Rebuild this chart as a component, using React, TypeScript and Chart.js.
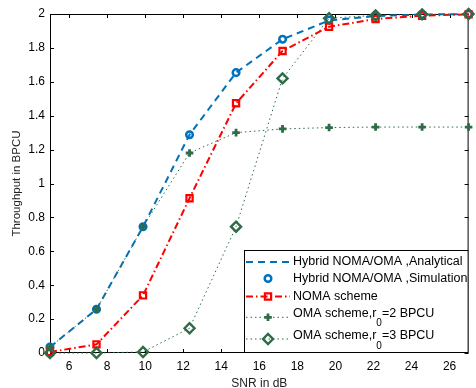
import React, { useEffect, useRef } from 'react';
import { Chart, registerables } from 'chart.js';

Chart.register(...registerables);

// ---- data ----
const snrDb = [5, 7.444, 9.889, 12.333, 14.778, 17.222, 19.667, 22.111, 24.556, 27];
const hybridAnalytical = [0.035, 0.258, 0.745, 1.288, 1.654, 1.851, 1.962, 1.988, 1.997, 2.0];
const hybridSimulation = [0.035, 0.258, 0.745, 1.288, 1.654, 1.851, 1.965, 1.988, 1.997, 2.0];
const nomaScheme = [0.006, 0.051, 0.34, 0.913, 1.473, 1.782, 1.925, 1.97, 1.99, 1.998];
const omaR2 = [0.035, 0.258, 0.745, 1.18, 1.3, 1.322, 1.33, 1.333, 1.333, 1.333];
const omaR3 = [0.0, 0.0, 0.006, 0.146, 0.745, 1.62, 1.975, 1.992, 1.998, 2.0];

const xTicks = [6, 8, 10, 12, 14, 16, 18, 20, 22, 24, 26];
const xTickLabels = ['6', '8', '10', '12', '14', '16', '18', '20', '22', '24', '26'];
const yTicks = [0, 0.2, 0.4, 0.6, 0.8, 1, 1.2, 1.4, 1.6, 1.8, 2];
const yTickLabels = ['0', '0.2', '0.4', '0.6', '0.8', '1', '1.2', '1.4', '1.6', '1.8', '2'];

const seriesLabels = [
  'Hybrid NOMA/OMA ,Analytical',
  'Hybrid NOMA/OMA ,Simulation',
  'NOMA scheme',
  'OMA scheme,r_0=2 BPCU',
  'OMA scheme,r_0=3 BPCU',
];
const xTitle = 'SNR in dB';
const yTitle = 'Throughput in BPCU';

const BLUE = '#0072BD';
const RED = '#FF0000';
const GREEN = '#2E6B46';
const FONT = '"Liberation Sans", Arial, Helvetica, sans-serif';

type Sample = {
  line: boolean;
  color: string;
  width: number;
  dash: number[];
  marker: string | null;
  r: number;
  mw: number;
};

const legendSamples: Sample[] = [
  { line: true, color: BLUE, width: 2, dash: [7, 5], marker: null, r: 0, mw: 0 },
  { line: false, color: BLUE, width: 2, dash: [], marker: 'circle', r: 3.3, mw: 2.5 },
  { line: true, color: RED, width: 2, dash: [7, 3, 1.5, 3], marker: 'rect', r: 4.4, mw: 2.2 },
  { line: true, color: GREEN, width: 1, dash: [1.5, 3], marker: 'cross', r: 3.8, mw: 2.8 },
  { line: true, color: GREEN, width: 1, dash: [1.5, 3], marker: 'rectRot', r: 5, mw: 2.4 },
];

function drawMarker(ctx: CanvasRenderingContext2D, s: Sample, x: number, y: number) {
  if (!s.marker) return;
  ctx.save();
  ctx.setLineDash([]);
  ctx.strokeStyle = s.color;
  ctx.lineWidth = s.mw;
  ctx.beginPath();
  if (s.marker === 'circle') {
    ctx.arc(x, y, s.r, 0, Math.PI * 2);
  } else if (s.marker === 'rect') {
    const h = Math.SQRT1_2 * s.r;
    ctx.rect(x - h, y - h, 2 * h, 2 * h);
  } else if (s.marker === 'cross') {
    ctx.moveTo(x - s.r, y);
    ctx.lineTo(x + s.r, y);
    ctx.moveTo(x, y - s.r);
    ctx.lineTo(x, y + s.r);
  } else if (s.marker === 'rectRot') {
    ctx.moveTo(x - s.r, y);
    ctx.lineTo(x, y - s.r);
    ctx.lineTo(x + s.r, y);
    ctx.lineTo(x, y + s.r);
    ctx.closePath();
  }
  ctx.stroke();
  ctx.restore();
}

const matlabPlugin = {
  id: 'matlabAxes',
  beforeDatasetsDraw(chart: any) {
    const { ctx, chartArea: a, scales } = chart;
    ctx.save();
    ctx.strokeStyle = '#000';
    ctx.lineWidth = 1;
    ctx.strokeRect(a.left + 0.5, a.top + 0.5, a.right - a.left - 1, a.bottom - a.top - 1);
    ctx.beginPath();
    const tl = 4;
    xTicks.forEach((v) => {
      const px = Math.round(scales.x.getPixelForValue(v)) + 0.5;
      ctx.moveTo(px, a.bottom);
      ctx.lineTo(px, a.bottom - tl);
      ctx.moveTo(px, a.top);
      ctx.lineTo(px, a.top + tl);
    });
    yTicks.forEach((v) => {
      const py = Math.round(scales.y.getPixelForValue(v)) + 0.5;
      ctx.moveTo(a.left, py);
      ctx.lineTo(a.left + tl, py);
      ctx.moveTo(a.right, py);
      ctx.lineTo(a.right - tl, py);
    });
    ctx.stroke();
    ctx.restore();
  },
  afterDatasetsDraw(chart: any) {
    const { ctx, chartArea: a } = chart;
    const left = 244;
    const top = 250;
    const right = a.right;
    const bottom = a.bottom;
    ctx.save();
    ctx.fillStyle = '#fff';
    ctx.fillRect(left, top, right - left, bottom - top);
    ctx.strokeStyle = '#000';
    ctx.lineWidth = 1;
    ctx.strokeRect(left + 0.5, top + 0.5, right - left - 1, bottom - top - 1);

    const textY = [262, 278.5, 296.5, 313.5, 336];
    const markY = [262, 278.5, 296.5, 317.3, 339];
    const x0 = 246;
    const x1 = 290;
    const xm = 268;
    const tx = 293;
    seriesLabels.forEach((label, i) => {
      const s = legendSamples[i];
      if (s.line) {
        ctx.save();
        ctx.strokeStyle = s.color;
        ctx.lineWidth = s.width;
        ctx.setLineDash(s.dash);
        ctx.beginPath();
        ctx.moveTo(x0, markY[i]);
        ctx.lineTo(x1, markY[i]);
        ctx.stroke();
        ctx.restore();
      }
      drawMarker(ctx, s, xm, markY[i]);
      ctx.fillStyle = '#000';
      ctx.textBaseline = 'middle';
      ctx.textAlign = 'left';
      const parts = label.split(/_(.)/);
      let x = tx;
      parts.forEach((p, k) => {
        const sub = k % 2 === 1;
        ctx.font = (sub ? '10px ' : '12.5px ') + FONT;
        ctx.fillText(p, x, textY[i] + (sub ? 10 : 0));
        x += ctx.measureText(p).width;
      });
    });
    ctx.restore();
  },
};

export default function App() {
  const ref = useRef<HTMLCanvasElement | null>(null);

  useEffect(() => {
    if (!ref.current) return;
    const mk = (data: number[]) => data.map((y, i) => ({ x: snrDb[i], y }));
    const s = legendSamples;
    const chart = new Chart(ref.current, {
      type: 'line',
      data: {
        datasets: [
          {
            label: seriesLabels[0],
            data: mk(hybridAnalytical),
            borderColor: BLUE,
            borderWidth: 2,
            borderDash: s[0].dash,
            pointRadius: 0,
            fill: false,
            tension: 0,
            clip: false as any,
            order: 5,
          },
          {
            label: seriesLabels[1],
            data: mk(hybridSimulation),
            showLine: false,
            borderColor: BLUE,
            backgroundColor: 'transparent',
            pointStyle: 'circle',
            pointRadius: s[1].r,
            pointBorderWidth: s[1].mw,
            pointBorderColor: BLUE,
            pointBackgroundColor: 'transparent',
            clip: false as any,
            order: 4,
          },
          {
            label: seriesLabels[2],
            data: mk(nomaScheme),
            borderColor: RED,
            borderWidth: 2,
            borderDash: s[2].dash,
            pointStyle: 'rect',
            pointRadius: s[2].r,
            pointBorderWidth: s[2].mw,
            pointBorderColor: RED,
            pointBackgroundColor: 'transparent',
            backgroundColor: 'transparent',
            fill: false,
            tension: 0,
            clip: false as any,
            order: 3,
          },
          {
            label: seriesLabels[3],
            data: mk(omaR2),
            borderColor: GREEN,
            borderWidth: 1,
            borderDash: s[3].dash,
            pointStyle: 'cross',
            pointRadius: s[3].r,
            pointBorderWidth: s[3].mw,
            pointBorderColor: GREEN,
            pointBackgroundColor: 'transparent',
            backgroundColor: 'transparent',
            fill: false,
            tension: 0,
            clip: false as any,
            order: 2,
          },
          {
            label: seriesLabels[4],
            data: mk(omaR3),
            borderColor: GREEN,
            borderWidth: 1,
            borderDash: s[4].dash,
            pointStyle: 'rectRot',
            pointRadius: s[4].r,
            pointBorderWidth: s[4].mw,
            pointBorderColor: GREEN,
            pointBackgroundColor: 'transparent',
            backgroundColor: 'transparent',
            fill: false,
            tension: 0,
            clip: false as any,
            order: 1,
          },
        ],
      },
      options: {
        responsive: false,
        animation: false,
        devicePixelRatio: 1,
        events: [],
        layout: { padding: { top: 14, right: 3, left: 0, bottom: 0 } },
        plugins: {
          legend: { display: false },
          tooltip: { enabled: false },
        },
        scales: {
          x: {
            type: 'linear',
            min: 5,
            max: 27,
            afterBuildTicks: (sc: any) => {
              sc.ticks = xTicks.map((v) => ({ value: v }));
            },
            afterFit: (sc: any) => {
              sc.height = 35;
            },
            grid: { display: false, drawTicks: false },
            border: { display: false },
            ticks: {
              autoSkip: false,
              maxRotation: 0,
              padding: 6,
              color: '#000',
              font: { family: FONT, size: 12 },
              callback: (_v: any, i: number) => xTickLabels[i],
            },
            title: {
              display: true,
              text: xTitle,
              color: '#222',
              font: { family: FONT, size: 12, lineHeight: 0.7 },
              padding: { top: 0, bottom: 0 },
            },
          },
          y: {
            type: 'linear',
            min: 0,
            max: 2,
            afterBuildTicks: (sc: any) => {
              sc.ticks = yTicks.map((v) => ({ value: v }));
            },
            afterFit: (sc: any) => {
              sc.width = 50;
            },
            grid: { display: false, drawTicks: false },
            border: { display: false },
            ticks: {
              autoSkip: false,
              padding: 5,
              color: '#000',
              font: { family: FONT, size: 12 },
              callback: (_v: any, i: number) => yTickLabels[i],
            },
            title: {
              display: true,
              text: yTitle,
              color: '#222',
              font: { family: FONT, size: 11.5 },
              padding: { top: 10, bottom: 0 },
            },
          },
        },
      },
      plugins: [matlabPlugin],
    } as any);
    return () => chart.destroy();
  }, []);

  return (
    <div style={{ position: 'fixed', left: 0, top: 0, width: 476, height: 388, background: '#fff' }}>
      <canvas ref={ref} width={476} height={388} style={{ display: 'block', width: 476, height: 388 }} />
    </div>
  );
}
